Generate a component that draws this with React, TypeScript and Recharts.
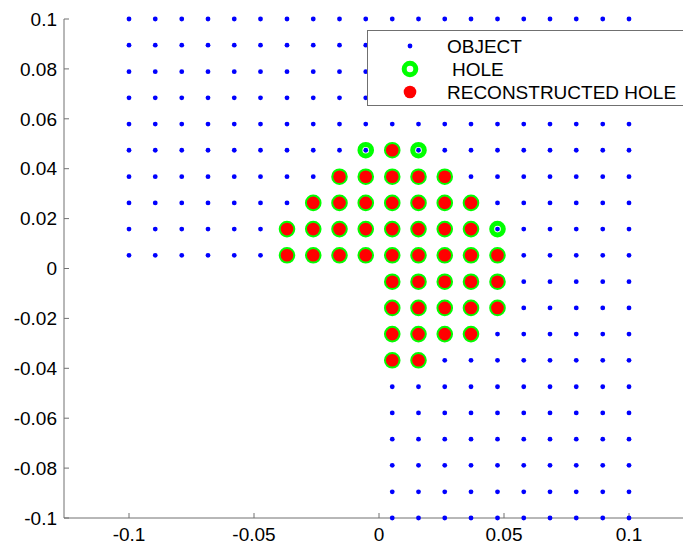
import { ScatterChart, Scatter, XAxis, YAxis, Legend } from 'recharts';

// sampling grid: 20 positions over [-0.1, 0.1]
const gridX = [-0.1, -0.0895, -0.0789, -0.0684, -0.0579, -0.0474, -0.0368, -0.0263, -0.0158, -0.0053,
  0.0053, 0.0158, 0.0263, 0.0368, 0.0474, 0.0579, 0.0684, 0.0789, 0.0895, 0.1];

// object is an L shape: full width above y=0, right half only below it
const upperRowsY = [0.0053, 0.0158, 0.0263, 0.0368, 0.0474, 0.0579, 0.0684, 0.0789, 0.0895, 0.1];
const lowerRowsY = [-0.1, -0.0895, -0.0789, -0.0684, -0.0579, -0.0474, -0.0368, -0.0263, -0.0158, -0.0053];
const rightColsX = [0.0053, 0.0158, 0.0263, 0.0368, 0.0474, 0.0579, 0.0684, 0.0789, 0.0895, 0.1];

// hole cells, one entry per row
const holeRows = [
  { y: 0.0474, x: [-0.0053, 0.0053, 0.0158] },
  { y: 0.0368, x: [-0.0158, -0.0053, 0.0053, 0.0158, 0.0263] },
  { y: 0.0263, x: [-0.0263, -0.0158, -0.0053, 0.0053, 0.0158, 0.0263, 0.0368] },
  { y: 0.0158, x: [-0.0368, -0.0263, -0.0158, -0.0053, 0.0053, 0.0158, 0.0263, 0.0368, 0.0474] },
  { y: 0.0053, x: [-0.0368, -0.0263, -0.0158, -0.0053, 0.0053, 0.0158, 0.0263, 0.0368, 0.0474] },
  { y: -0.0053, x: [0.0053, 0.0158, 0.0263, 0.0368, 0.0474] },
  { y: -0.0158, x: [0.0053, 0.0158, 0.0263, 0.0368, 0.0474] },
  { y: -0.0263, x: [0.0053, 0.0158, 0.0263, 0.0368] },
  { y: -0.0368, x: [0.0053, 0.0158] },
];

// cells the reconstruction found
const reconRows = [
  { y: 0.0474, x: [0.0053] },
  { y: 0.0368, x: [-0.0158, -0.0053, 0.0053, 0.0158, 0.0263] },
  { y: 0.0263, x: [-0.0263, -0.0158, -0.0053, 0.0053, 0.0158, 0.0263, 0.0368] },
  { y: 0.0158, x: [-0.0368, -0.0263, -0.0158, -0.0053, 0.0053, 0.0158, 0.0263, 0.0368] },
  { y: 0.0053, x: [-0.0368, -0.0263, -0.0158, -0.0053, 0.0053, 0.0158, 0.0263, 0.0368, 0.0474] },
  { y: -0.0053, x: [0.0053, 0.0158, 0.0263, 0.0368, 0.0474] },
  { y: -0.0158, x: [0.0053, 0.0158, 0.0263, 0.0368, 0.0474] },
  { y: -0.0263, x: [0.0053, 0.0158, 0.0263, 0.0368] },
  { y: -0.0368, x: [0.0053, 0.0158] },
];

const xTicks = [-0.1, -0.05, 0, 0.05, 0.1];
const yTicks = [-0.1, -0.08, -0.06, -0.04, -0.02, 0, 0.02, 0.04, 0.06, 0.08, 0.1];

const FONT = '"Liberation Sans", Arial, sans-serif';
const AXIS = '#707070';

const objectPts = [
  ...upperRowsY.flatMap((y) => gridX.map((x) => ({ x, y }))),
  ...lowerRowsY.flatMap((y) => rightColsX.map((x) => ({ x, y }))),
];
const rowsToPts = (rows: { y: number; x: number[] }[]) =>
  rows.flatMap((r) => r.x.map((x) => ({ x, y: r.y })));
const holePts = rowsToPts(holeRows);
const reconPts = rowsToPts(reconRows);

const ObjectDot = (p: any) => <circle cx={p.cx} cy={p.cy} r={2.4} fill="#0000ff" />;
const HoleRing = (p: any) => (
  <circle cx={p.cx} cy={p.cy} r={5.8} fill="none" stroke="#00ff00" strokeWidth={5} />
);
const ReconDot = (p: any) => <circle cx={p.cx} cy={p.cy} r={6.3} fill="#ff0000" />;

const LegendBox = () => (
  <div style={{ width: 340, height: 76, border: `1px solid ${AXIS}`, background: '#fff', boxSizing: 'border-box' }}>
    <svg width={340} height={74} style={{ display: 'block' }}>
      <g fontFamily={FONT} fontSize={19} fill="#000">
        <circle cx={42} cy={15} r={2.4} fill="#0000ff" />
        <text x={79} y={15} dominantBaseline="central">OBJECT</text>
        <circle cx={42} cy={38} r={5.8} fill="none" stroke="#00ff00" strokeWidth={5} />
        <text x={84} y={38} dominantBaseline="central">HOLE</text>
        <circle cx={42} cy={61} r={6.3} fill="#ff0000" />
        <text x={79} y={61} dominantBaseline="central">RECONSTRUCTED HOLE</text>
      </g>
    </svg>
  </div>
);

export default function App() {
  return (
    <div style={{ position: 'absolute', left: 0, top: 0, width: 683, height: 544, overflow: 'hidden', background: '#fff' }}>
      <ScatterChart width={700} height={544} margin={{ top: 19, right: 6, bottom: 0, left: 0 }}>
        <XAxis
          type="number"
          dataKey="x"
          domain={[-0.126, 0.126]}
          ticks={xTicks}
          tickFormatter={(v: number) => String(v)}
          height={26}
          tickSize={-5}
          tickMargin={15}
          stroke={AXIS}
          tick={{ fill: '#000', fontSize: 19, fontFamily: FONT }}
          allowDataOverflow
        />
        <YAxis
          type="number"
          dataKey="y"
          domain={[-0.1, 0.1]}
          ticks={yTicks}
          tickFormatter={(v: number) => String(v)}
          width={64}
          tickSize={-5}
          tickMargin={12}
          stroke={AXIS}
          tick={{ fill: '#000', fontSize: 19, fontFamily: FONT }}
        />
        <Legend
          layout="vertical"
          align="center"
          verticalAlign="middle"
          content={() => <LegendBox />}
          wrapperStyle={{ left: 367, top: 30, width: 340, height: 76 }}
        />
        <Scatter name="OBJECT" data={objectPts} shape={ObjectDot} isAnimationActive={false} />
        <Scatter name="HOLE" data={holePts} shape={HoleRing} isAnimationActive={false} />
        <Scatter name="RECONSTRUCTED HOLE" data={reconPts} shape={ReconDot} isAnimationActive={false} />
      </ScatterChart>
    </div>
  );
}
